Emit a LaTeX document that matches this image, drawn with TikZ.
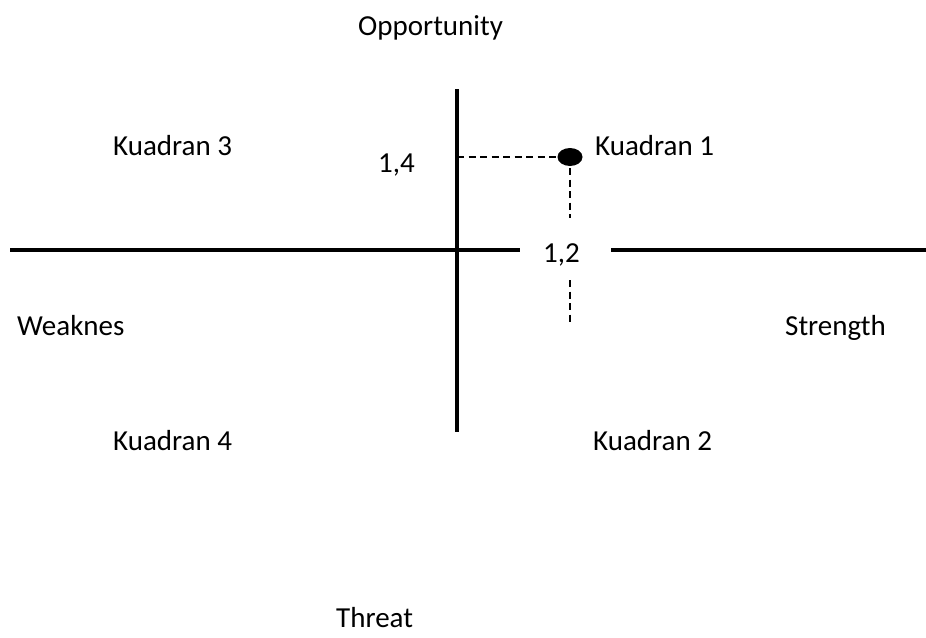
\documentclass[tikz,border=0pt]{standalone}
\usepackage{fontspec}
\setmainfont{Carlito}
\usetikzlibrary{shapes.geometric}
\begin{document}
\begin{tikzpicture}[x=1pt,y=-1pt,
  lbl/.style={anchor=base west,inner sep=0pt,font=\fontsize{29}{34}\selectfont},
  axis/.style={line width=4.5pt},
  guide/.style={line width=1.6pt,dash pattern=on 7pt off 4.5pt}]
\useasboundingbox (0,0) rectangle (926,637);
% axes
\coordinate (hl1) at (10,250);
\coordinate (hl2) at (520,250);
\coordinate (hr1) at (611,250);
\coordinate (hr2) at (926,250);
\coordinate (vt) at (457,89);
\coordinate (vb) at (457,432);
\draw[axis] (hl1) -- (hl2);
\draw[axis] (hr1) -- (hr2);
\draw[axis] (vt) -- (vb);
% point
\node[ellipse,fill=black,minimum width=25pt,minimum height=18pt,inner sep=0pt] (pt) at (570,157) {};
\coordinate (yax) at (457,157);
\coordinate (d1a) at (570,168);
\coordinate (d1b) at (570,218);
\coordinate (d2a) at (570,280);
\coordinate (d2b) at (570,323);
\draw[guide] (yax) -- (pt.west);
\draw[guide] (d1a) -- (d1b);
\draw[guide] (d2a) -- (d2b);
% labels
\node[lbl] (opp) at (358,35) {Opportunity};
\node[lbl] (k3) at (113,155) {Kuadran 3};
\node[lbl] (k1) at (595,155) {Kuadran 1};
\node[lbl] (v14) at (378,172) {1,4};
\node[lbl] (v12) at (543,262) {1,2};
\node[lbl] (weak) at (17,335) {Weaknes};
\node[lbl] (str) at (785,335) {Strength};
\node[lbl] (k4) at (113,450) {Kuadran 4};
\node[lbl] (k2) at (593,450) {Kuadran 2};
\node[lbl] (thr) at (336,627) {Threat};
\end{tikzpicture}
\end{document}
